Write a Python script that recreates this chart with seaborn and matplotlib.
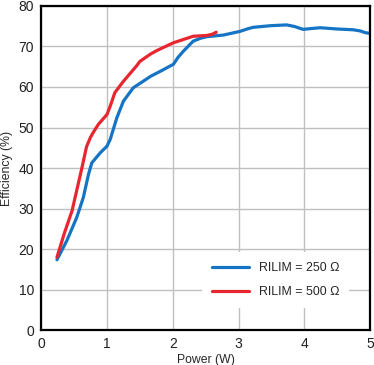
import matplotlib.pyplot as plt
import pandas as pd
import seaborn as sns

# Efficiency vs output power
power_250 = [0.24, 0.39, 0.54, 0.64, 0.72, 0.77, 0.9, 1.0, 1.05, 1.15, 1.25,
             1.4, 1.55, 1.66, 1.85, 2.01, 2.08, 2.16, 2.31, 2.42, 2.52, 2.77,
             3.02, 3.15, 3.22, 3.48, 3.73, 3.85, 3.98, 4.1, 4.24, 4.49, 4.74,
             4.85, 4.92, 5.0]
eff_250 = [17.4, 22.1, 27.8, 32.7, 38.5, 41.3, 43.8, 45.4, 47.1, 52.4, 56.5,
           59.8, 61.4, 62.6, 64.2, 65.6, 67.3, 68.8, 71.3, 72.0, 72.4, 72.8,
           73.7, 74.4, 74.7, 75.1, 75.3, 74.9, 74.2, 74.4, 74.6, 74.3, 74.1,
           73.8, 73.4, 73.2]

power_500 = [0.24, 0.35, 0.47, 0.62, 0.69, 0.75, 0.8, 0.87, 1.0, 1.05, 1.12,
             1.25, 1.45, 1.5, 1.66, 1.76, 2.01, 2.31, 2.52, 2.6, 2.66]
eff_500 = [18.0, 23.8, 29.5, 40.1, 45.3, 47.6, 49.0, 50.8, 53.2, 55.3, 58.6,
           61.4, 65.2, 66.3, 68.1, 69.0, 70.9, 72.5, 72.7, 73.0, 73.5]

labels = ['RILIM = 250 Ω', 'RILIM = 500 Ω']
colors = ['#1574C4', '#E8262F']

df = pd.concat([
    pd.DataFrame({'power': power_250, 'eff': eff_250, 'series': labels[0]}),
    pd.DataFrame({'power': power_500, 'eff': eff_500, 'series': labels[1]}),
])

sns.set_style('white')
plt.rcParams['font.family'] = ['Liberation Sans', 'DejaVu Sans']

fig, ax = plt.subplots(figsize=(3.74, 3.65), dpi=100)
fig.subplots_adjust(left=0.11, right=0.99, top=0.984, bottom=0.095)

sns.lineplot(data=df, x='power', y='eff', hue='series', palette=colors,
             hue_order=labels, linewidth=2.3, sort=False, ax=ax,
             solid_joinstyle='round', solid_capstyle='round')

ax.set_xlim(0, 5)
ax.set_ylim(0, 80)
ax.set_xticks(range(0, 6))
ax.set_yticks(range(0, 81, 10))
ax.grid(True, color='#c0c0c0', linewidth=1)
ax.set_axisbelow(True)
for s in ax.spines.values():
    s.set_color('black')
    s.set_linewidth(1.6)
ax.tick_params(axis='both', labelsize=10, length=0, pad=5, colors='#202020')
ax.set_xlabel('Power (W)', fontsize=8.8, labelpad=2)
ax.set_ylabel('Efficiency (%)', fontsize=8.8, labelpad=4)

leg = ax.legend(loc='lower right', bbox_to_anchor=(0.955, 0.05), fontsize=8.9,
                frameon=True, facecolor='white', edgecolor='none',
                framealpha=1, fancybox=False, handlelength=3.0,
                labelspacing=0.95, borderpad=0.8)

fig.savefig('out.png')
